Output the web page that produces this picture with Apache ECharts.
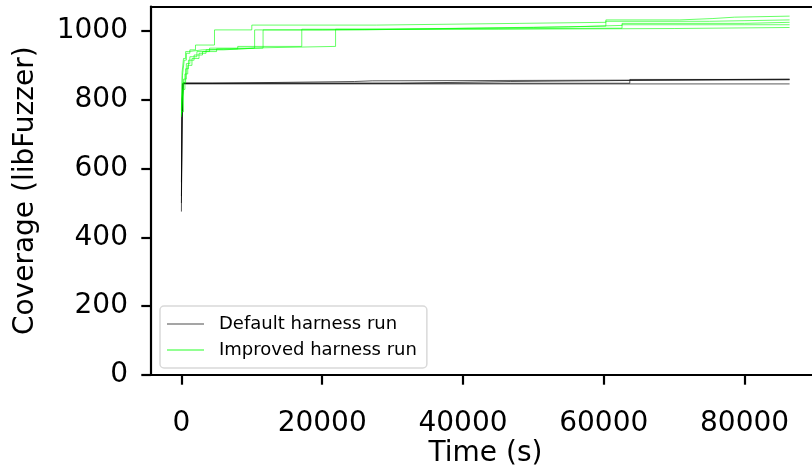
<!DOCTYPE html>
<html>
<head>
<meta charset="utf-8">
<script src="https://cdn.jsdelivr.net/npm/echarts@6/dist/echarts.min.js"></script>
<style>
html,body{margin:0;padding:0;background:#fff;}
#c{width:812px;height:468px;}
</style>
</head>
<body>
<div id="c"></div>
<script>
// ---- data: [time (s), coverage] ----
const defaultRun1 = [[0,475],[60,700],[150,846],[86400,846]];
const defaultRun2 = [[0,560],[100,760],[250,848],[4400,853],[24600,855],[27100,857],[63700,860],[86400,860]];
const defaultRun3 = [[0,500],[120,800],[300,848],[31100,853],[46800,856],[63700,858],[86400,858]];
const defaultRun4 = [[0,520],[80,780],[200,848],[63700,859],[86400,859]];

const improvedRun1 = [[0,750],[150,870],[400,915],[700,935],[1200,945],[2000,959],[4700,1003],[10000,1017],[27700,1022],[48000,1025],[60300,1032],[70800,1036],[75500,1040],[78600,1043],[86400,1043]];
const improvedRun2 = [[0,760],[200,830],[500,875],[900,900],[1500,920],[2500,935],[3500,945],[6000,950],[10400,1003],[20000,1006],[35000,1010],[50000,1014],[60300,1028],[75000,1032],[86400,1032]];
const improvedRun3 = [[0,770],[100,880],[300,920],[600,940],[1000,945],[3000,950],[11600,1003],[26000,1008],[40000,1012],[55000,1016],[62600,1022],[80000,1025],[86400,1025]];
const improvedRun4 = [[0,755],[250,850],[600,890],[1000,915],[1800,930],[3000,940],[5000,948],[8000,955],[17100,1005],[30000,1008],[62600,1018],[86400,1018]];
const improvedRun5 = [[0,765],[300,860],[700,905],[1200,925],[2200,940],[4000,950],[9000,955],[21900,1005],[45000,1007],[70000,1010],[86400,1010]];

const defaultRuns = [defaultRun1, defaultRun2, defaultRun3, defaultRun4];
const improvedRuns = [improvedRun1, improvedRun2, improvedRun3, improvedRun4, improvedRun5];

const xTicks = [0, 20000, 40000, 60000, 80000];
const yTicks = [0, 200, 400, 600, 800, 1000];

const seriesNames = ['Default harness run', 'Improved harness run'];
const xName = 'Time (s)';
const yName = 'Coverage (libFuzzer)';

const FONT = 'DejaVu Sans';
const DEF_COLOR = 'rgba(0,0,0,0.65)';
const IMP_COLOR = 'rgba(0,255,0,0.6)';

function mk(name, data, color) {
  return {
    type: 'line', name: name, data: data, step: 'end',
    symbol: 'none', color: color,
    lineStyle: {width: 1, color: color},
    emphasis: {disabled: true}, silent: true
  };
}
const series = [];
defaultRuns.forEach(r => series.push(mk(seriesNames[0], r, DEF_COLOR)));
improvedRuns.forEach(r => series.push(mk(seriesNames[1], r, IMP_COLOR)));

const axisLine = {show: true, onZero: false, lineStyle: {color: '#000', width: 2.2}};
const plain = v => String(v);
const chart = echarts.init(document.getElementById('c'), null, {renderer: 'canvas'});
chart.setOption({
  animation: false,
  backgroundColor: '#fff',
  grid: {left: 151, right: -8, top: 6.5, bottom: 93,
         outerBounds: {left: -300, right: -300, top: -300, bottom: -300}},
  xAxis: [{
    type: 'value', min: -4320, max: 90720,
    axisLine: axisLine,
    axisTick: {show: true, length: 9.7, lineStyle: {width: 2.2, color: '#000'}, customValues: xTicks},
    axisLabel: {show: true, customValues: xTicks, formatter: plain, margin: 23, verticalAlign: 'top',
                padding: [12, 0, 0, 0],
                fontFamily: FONT, fontSize: 28, color: '#000'},
    splitLine: {show: false},
    name: xName, nameLocation: 'middle', nameGap: 65, nameMoveOverlap: false,
    nameTextStyle: {fontFamily: FONT, fontSize: 28, color: '#000'}
  }, {
    type: 'value', position: 'top', min: -4320, max: 90720,
    axisLine: axisLine, axisTick: {show: false}, axisLabel: {show: false}, splitLine: {show: false}
  }],
  yAxis: {
    type: 'value', min: 0, max: 1071,
    axisLine: axisLine,
    axisTick: {show: true, length: 9.7, lineStyle: {width: 2.2, color: '#000'}, customValues: yTicks},
    axisLabel: {show: true, customValues: yTicks, formatter: plain, margin: 23, fontFamily: FONT, fontSize: 28, color: '#000'},
    splitLine: {show: false},
    name: yName, nameLocation: 'middle', nameGap: 111, nameMoveOverlap: false,
    nameTextStyle: {fontFamily: FONT, fontSize: 28, color: '#000'}
  },
  legend: {
    left: 160, top: 306,
    orient: 'vertical',
    padding: [8, 10, 8, 7],
    itemGap: 6,
    itemWidth: 37, itemHeight: 1,
    icon: 'rect',
    backgroundColor: 'rgba(255,255,255,0.8)',
    borderColor: '#d9d9d9', borderWidth: 1.5, borderRadius: 4,
    selectedMode: false,
    textStyle: {fontFamily: FONT, fontSize: 18, color: '#000', lineHeight: 20, padding: [0, 0, 0, 10]},
    data: [
      {name: seriesNames[0], itemStyle: {color: 'rgba(0,0,0,0.7)'}},
      {name: seriesNames[1], itemStyle: {color: 'rgba(0,255,0,0.85)'}}
    ]
  },
  series: series
});
</script>
</body>
</html>
